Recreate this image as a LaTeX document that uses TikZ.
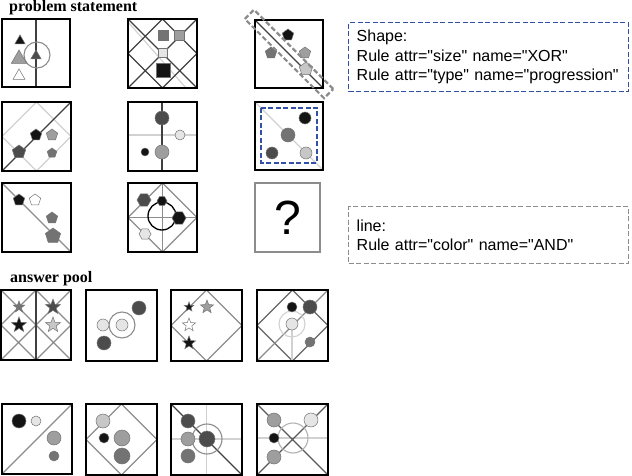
\documentclass[tikz,border=0pt]{standalone}
\usepackage{fontspec}
\setmainfont{Liberation Serif}
\setsansfont{Liberation Sans}[Ligatures=TeXOff]
\usepackage{xcolor}
\usepackage{tikz}

\definecolor{g0}{gray}{0.08}
\definecolor{g1}{gray}{0.30}
\definecolor{g2}{gray}{0.45}
\definecolor{g3}{gray}{0.62}
\definecolor{g4}{gray}{0.78}
\definecolor{g5}{gray}{0.90}
\definecolor{ruleblue}{RGB}{50,80,165}
\definecolor{rulegray}{gray}{0.55}

% entities drawn inside a panel (x, y, radius, fill)
\newcommand{\tri}[4]{\filldraw[shp,fill=#4] (#1,#2) +(270:#3) -- +(30:#3) -- +(150:#3) -- cycle;}
\newcommand{\sq}[4]{\filldraw[shp,fill=#4] (#1,#2) +(-#3,-#3) rectangle +(#3,#3);}
\newcommand{\pent}[4]{\filldraw[shp,fill=#4] (#1,#2) +(270:#3) -- +(342:#3) -- +(54:#3) -- +(126:#3) -- +(198:#3) -- cycle;}
\newcommand{\hexa}[4]{\filldraw[shp,fill=#4] (#1,#2) +(0:#3) -- +(60:#3) -- +(120:#3) -- +(180:#3) -- +(240:#3) -- +(300:#3) -- cycle;}
\newcommand{\ball}[4]{\filldraw[shp,fill=#4] (#1,#2) circle (#3);}
\newcommand{\starr}[4]{\filldraw[shp,fill=#4] (#1,#2) +(270:#3) -- +(306:0.42*#3) -- +(342:#3) -- +(18:0.42*#3)
  -- +(54:#3) -- +(90:0.42*#3) -- +(126:#3) -- +(162:0.42*#3) -- +(198:#3) -- +(234:0.42*#3) -- cycle;}
\newcommand{\panel}[1]{\draw[frame] (0,0) rectangle (#1,#1);}
\newcommand{\diam}[1]{(#1/2,0) -- (#1,#1/2) -- (#1/2,#1) -- (0,#1/2) -- cycle}

\begin{document}
\begin{tikzpicture}[x=1pt, y=-1pt,
    frame/.style={draw=black, line width=1.1pt},
    dark/.style={draw=black!75, line width=1.2pt},
    mid/.style={draw=black!45, line width=1.1pt},
    pale/.style={draw=black!18, line width=1.1pt},
    shp/.style={draw=black!55, line width=0.5pt},
    head/.style={font=\bfseries\fontsize{16}{18}\selectfont, anchor=base west, inner sep=0pt},
    rulebox/.style={dash pattern=on 5pt off 2.5pt, line width=1.4pt, anchor=north west,
                    align=left, text width=264pt, inner xsep=8pt,
                    font=\sffamily\fontsize{16}{19.5}\selectfont}
]
    \useasboundingbox (0,0) rectangle (632,476);

    \node[head] (problem) at (9,12) {problem statement};
    \node[head] (pool) at (10,282) {answer pool};

    % problem statement, row 1
    \begin{scope}[shift={(2,19)}]
        \draw[dark] (34,0) -- (34,68);
        \draw[mid] (35,36) circle (13);
        \tri{18}{22}{6}{g0}
        \tri{17}{40}{9}{g3}
        \tri{17}{57}{7}{white}
        \tri{34}{37}{6}{g1}
        \panel{68}
    \end{scope}
    \begin{scope}[shift={(128,19)}]
        \draw[pale] (0,3) -- (58,69);
        \draw[dark] \diam{69};
        \draw[dark] (0,0) -- (69,69) (69,0) -- (0,69);
        \sq{35}{16}{5}{g2}
        \sq{51}{16}{5}{g3}
        \sq{35}{34}{4.5}{g5}
        \sq{35}{51}{7}{g0}
        \panel{69}
    \end{scope}
    \begin{scope}[shift={(255,20)}]
        \draw[dark] (0,0) -- (68,68);
        \pent{33}{15}{6}{g0}
        \pent{16}{33}{6}{g2}
        \pent{50}{33}{6}{g3}
        \pent{51}{49}{7}{g4}
        \panel{68}
        \node[draw=rulegray, dash pattern=on 5pt off 2.5pt, line width=2.2pt, rotate=-45,
              minimum width=112pt, minimum height=13pt] (hilite) at (34,34) {};
    \end{scope}

    % problem statement, row 2
    \begin{scope}[shift={(2,102)}]
        \draw[pale] \diam{69};
        \draw[dark] (0,69) -- (69,0);
        \pent{34}{33}{6}{g0}
        \pent{50}{33}{6}{g3}
        \pent{17}{50}{7}{g1}
        \pent{50}{51}{5}{g2}
        \panel{69}
    \end{scope}
    \begin{scope}[shift={(128,102)}]
        \draw[pale] (0,33) -- (69,33);
        \draw[dark] (34,0) -- (34,69);
        \ball{34}{16}{7}{g1}
        \ball{52}{33}{5}{g5}
        \ball{17}{50}{4}{g0}
        \ball{34}{50}{7}{g3}
        \panel{69}
    \end{scope}
    \begin{scope}[shift={(255,102)}]
        \draw[pale] (0,0) -- (68,68);
        \ball{50}{16}{6}{g0}
        \ball{33}{33}{7}{g2}
        \ball{17}{51}{6}{g1}
        \ball{51}{51}{6}{g4}
        \panel{68}
        \draw[draw=ruleblue, dash pattern=on 5pt off 2.5pt, line width=1.8pt] (6,6) rectangle (62,61);
    \end{scope}

    % problem statement, row 3
    \begin{scope}[shift={(2,183)}]
        \draw[mid] (0,0) -- (69,69);
        \pent{17}{17}{6}{g0}
        \pent{33}{17}{6}{white}
        \pent{50}{35}{6}{g2}
        \pent{51}{53}{8}{g2}
        \panel{69}
    \end{scope}
    \begin{scope}[shift={(128,183)}]
        \draw[mid] \diam{69};
        \draw[mid] (0,34.5) -- (69,34.5) (34.5,0) -- (34.5,69);
        \draw[line width=1.3pt] (34,33) circle (14);
        \hexa{16}{17}{7}{g1}
        \hexa{34}{18}{5}{g0}
        \hexa{51}{35}{7}{g0}
        \hexa{17}{51}{6}{g5}
        \panel{69}
    \end{scope}
    \draw[draw=black!45, line width=1.2pt] (255,183) rectangle (320,252);
    \node[font=\sffamily\fontsize{48}{48}\selectfont] (query) at (287.5,217.5) {?};

    % rule boxes
    \node[rulebox, draw=ruleblue, minimum height=69pt] (shaperule) at (348,22)
        {Shape:\\Rule attr="size" name="XOR"\\Rule attr="type" name="progression"};
    \node[rulebox, draw=rulegray, minimum height=57pt] (linerule) at (348,206)
        {line:\\Rule attr="color" name="AND"};

    % answer pool, row 1
    \begin{scope}[shift={(1,290)}]
        \draw[mid] (0,0) -- (35,35) -- (0,70) (35,0) -- (0,35) -- (35,70)
                   (35,0) -- (70,35) -- (35,70) (70,0) -- (35,35) -- (70,70);
        \draw[dark] (35,0) -- (35,70);
        \starr{18}{17}{6}{g2}
        \starr{52}{17}{8}{g1}
        \starr{18}{35}{8}{g0}
        \starr{52}{35}{8}{g4}
        \panel{70}
    \end{scope}
    \begin{scope}[shift={(86,290)}]
        \draw[mid] (36,35) circle (13);
        \ball{53}{18}{7}{g1}
        \ball{17}{35}{6}{g5}
        \ball{36}{35}{6}{g5}
        \ball{18}{53}{7}{g1}
        \panel{71}
    \end{scope}
    \begin{scope}[shift={(171,290)}]
        \draw[mid] \diam{71};
        \starr{18}{17}{5}{g0}
        \starr{36}{17}{7}{g3}
        \starr{18}{35}{7}{white}
        \starr{18}{53}{7}{g0}
        \panel{71}
    \end{scope}
    \begin{scope}[shift={(257,290)}]
        \draw[draw=black!60, line width=1.1pt] \diam{71};
        \draw[mid] (0,71) -- (71,0);
        \draw[pale] (35,34) -- (35,71);
        \draw[pale] (35,34) circle (13);
        \ball{35}{34}{6}{g5}
        \ball{35}{17}{5}{g0}
        \ball{53}{17}{7}{g1}
        \ball{53}{52}{5}{g2}
        \panel{71}
    \end{scope}

    % answer pool, row 2
    \begin{scope}[shift={(2,404)}]
        \draw[mid] (0,70) -- (70,0);
        \ball{17}{17}{7}{g0}
        \ball{34}{17}{5}{g5}
        \ball{52}{34}{7}{g3}
        \ball{52}{52}{5}{g2}
        \panel{70}
    \end{scope}
    \begin{scope}[shift={(86,404)}]
        \draw[mid] \diam{71};
        \ball{17}{17}{7}{g4}
        \ball{18}{34}{5}{g0}
        \ball{36}{34}{8}{g3}
        \ball{36}{52}{8}{g2}
        \panel{71}
    \end{scope}
    \begin{scope}[shift={(171,404)}]
        \draw[pale] (0,35) -- (71,35) (35.5,0) -- (35.5,71);
        \draw[dark] (0,0) -- (71,71);
        \draw[mid] (36,35) circle (15);
        \ball{17}{17}{7}{g1}
        \ball{17}{35}{7}{g3}
        \ball{36}{35}{8}{g1}
        \ball{17}{52}{7}{g2}
        \panel{71}
    \end{scope}
    \begin{scope}[shift={(257,404)}]
        \draw[pale] (0,34) -- (71,34);
        \draw[draw=black!65, line width=1.2pt] (0,0) -- (71,71) (71,0) -- (0,71);
        \draw[draw=black!30, line width=1.1pt] (36,34) circle (15);
        \ball{17}{16}{7}{g3}
        \ball{54}{16}{7}{g5}
        \ball{17}{34}{5}{g0}
        \ball{17}{53}{7}{g3}
        \panel{71}
    \end{scope}
\end{tikzpicture}
\end{document}
